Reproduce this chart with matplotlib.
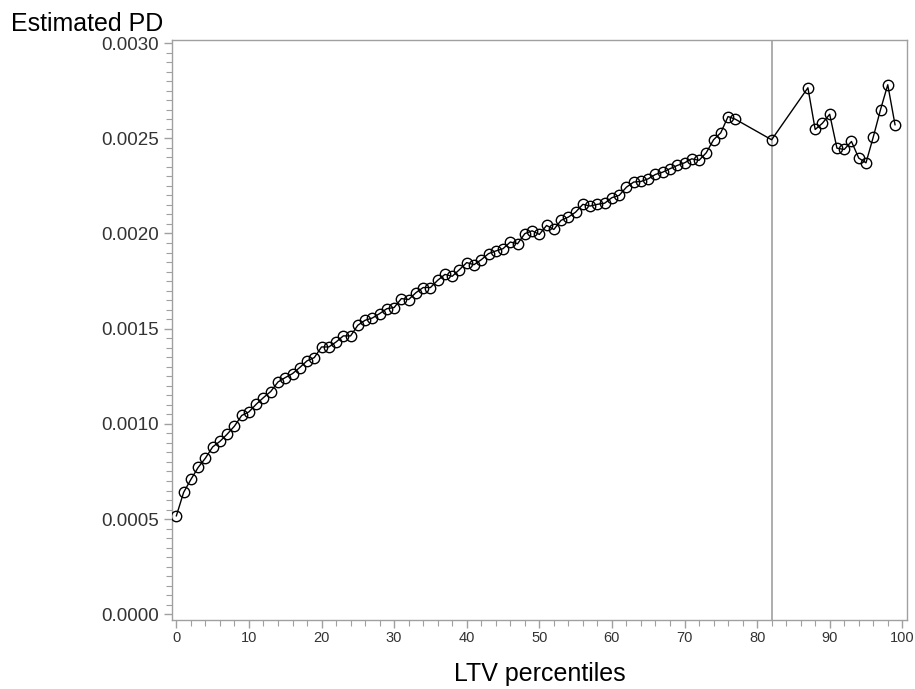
import matplotlib.pyplot as plt
from matplotlib.ticker import MultipleLocator

plt.rcParams['font.family'] = ['Liberation Sans', 'DejaVu Sans']

ltv_pct = list(range(0, 78)) + [82] + list(range(87, 100))

est_pd = [
    0.517, 0.640, 0.708, 0.771, 0.820, 0.879, 0.908, 0.946, 0.988, 1.044,
    1.063, 1.103, 1.138, 1.170, 1.220, 1.243, 1.264, 1.296, 1.331, 1.348,
    1.404, 1.404, 1.430, 1.462, 1.462, 1.518, 1.544, 1.556, 1.579, 1.605,
    1.611, 1.658, 1.653, 1.689, 1.716, 1.716, 1.754, 1.785, 1.775, 1.810,
    1.847, 1.836, 1.862, 1.894, 1.908, 1.920, 1.955, 1.946, 1.999, 2.014,
    1.995, 2.042, 2.021, 2.069, 2.086, 2.112, 2.153, 2.144, 2.153, 2.159,
    2.188, 2.200, 2.243, 2.270, 2.273, 2.287, 2.310, 2.322, 2.340, 2.357,
    2.371, 2.392, 2.384, 2.424, 2.492, 2.529, 2.614, 2.600,
    2.492,
    2.765, 2.546, 2.579, 2.626, 2.448, 2.441, 2.483, 2.396, 2.371, 2.506,
    2.650, 2.781, 2.571,
]
est_pd = [v / 1000 for v in est_pd]

ref_x = 82
grey = '#a0a0a0'


def main():
    fig = plt.figure(figsize=(9.15, 6.89), dpi=100)
    ax = fig.add_axes([172 / 915, 1 - 620 / 689, (907 - 172) / 915, (620 - 40) / 689])

    ax.axvline(ref_x, color=grey, lw=1.2, zorder=1)
    ax.plot(ltv_pct, est_pd, color='black', lw=1.0, marker='o', ms=7.5,
            mfc='none', mec='black', mew=1.0, zorder=3)

    ax.set_xlim(-0.6, 100.65)
    ax.set_ylim(-0.00003, 0.003016)
    ax.xaxis.set_major_locator(MultipleLocator(10))
    ax.xaxis.set_minor_locator(MultipleLocator(2))
    ax.yaxis.set_major_locator(MultipleLocator(0.0005))
    ax.yaxis.set_minor_locator(MultipleLocator(0.00005))
    ax.yaxis.set_major_formatter(lambda v, p: f'{v:.4f}')

    for s in ax.spines.values():
        s.set_color(grey)
        s.set_linewidth(1.0)
    ax.tick_params(axis='both', which='both', color=grey, direction='out')
    ax.tick_params(axis='both', which='major', length=6, width=1)
    ax.tick_params(axis='both', which='minor', length=4, width=0.8)
    ax.tick_params(axis='y', labelsize=13.5, labelcolor='#333333', pad=3.5)
    ax.tick_params(axis='x', labelsize=10.5, labelcolor='#333333', pad=2)

    ax.set_xlabel('LTV percentiles', fontsize=18)
    ax.xaxis.set_label_coords(0.5, -0.072, transform=ax.transAxes)
    ax.xaxis.label.set_va('top')
    fig.text(11 / 915, 1 - 12 / 689, 'Estimated PD', fontsize=18, ha='left', va='top')

    fig.savefig('out.png', dpi=100)


if __name__ == "__main__":
    main()
